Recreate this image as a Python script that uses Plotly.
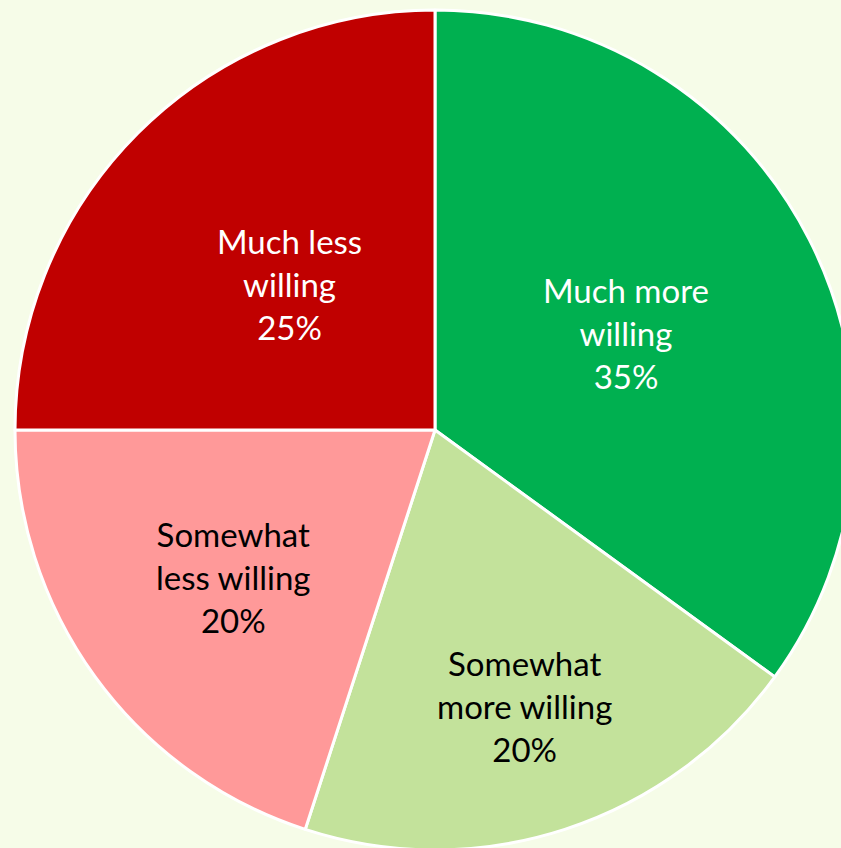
import math
import plotly.graph_objects as go

labels = ["Much more willing", "Somewhat more willing", "Somewhat less willing", "Much less willing"]
display_labels = ["Much more<br>willing", "Somewhat<br>more willing", "Somewhat<br>less willing", "Much less<br>willing"]
values = [35, 20, 20, 25]
colors = ["#00B050", "#C3E29B", "#FF9999", "#C00000"]
text_colors = ["white", "black", "black", "white"]
label_radius_frac = [0.51, 0.69, 0.595, 0.49]

W, H = 860, 860
cx, cy, r = 435, 430, 420

fig = go.Figure(go.Pie(
    labels=labels,
    values=values,
    textinfo="none",
    sort=False,
    direction="clockwise",
    rotation=0,
    marker=dict(colors=colors, line=dict(color="white", width=3)),
    hoverinfo="label+percent",
    showlegend=False,
    domain=dict(x=[(cx - r) / W, (cx + r) / W], y=[1 - (cy + r) / H, 1 - (cy - r) / H]),
))

total = sum(values)
cum = 0
for lab, v, tc, fr in zip(display_labels, values, text_colors, label_radius_frac):
    mid = (cum + v / 2) / total * 2 * math.pi
    cum += v
    px = cx + fr * r * math.sin(mid)
    py = cy - fr * r * math.cos(mid)
    pct = round(v / total * 100)
    fig.add_annotation(
        x=px / W, y=1 - py / H, xref="paper", yref="paper",
        text=f"{lab}<br>{pct}%", showarrow=False,
        xanchor="center", yanchor="middle", align="center",
        font=dict(family="Lato, Open Sans, sans-serif", size=33, color=tc),
    )

fig.update_layout(
    width=W, height=H,
    margin=dict(l=0, r=0, t=0, b=0),
    paper_bgcolor="#F6FCE8",
    plot_bgcolor="#F6FCE8",
)

fig.write_html(
    "out.html",
    config={"displayModeBar": False},
    post_script="document.body.style.margin='0';document.body.style.overflow='hidden';document.body.style.background='#F6FCE8';",
)
